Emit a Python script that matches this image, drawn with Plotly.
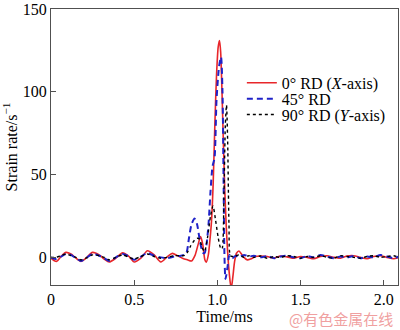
import plotly.graph_objects as go

# ---- data ----
red_x = [0.00, 0.02, 0.035, 0.06, 0.09, 0.12, 0.15, 0.18, 0.21, 0.25, 0.29, 0.32, 0.35, 0.39,
         0.43, 0.47, 0.50, 0.54, 0.58, 0.62, 0.66, 0.70, 0.73, 0.76, 0.79, 0.82, 0.845, 0.865,
         0.885, 0.899, 0.912, 0.925, 0.933, 0.945, 0.955, 0.965, 0.975, 0.985, 0.995, 1.005,
         1.013, 1.020, 1.028, 1.036, 1.045, 1.053, 1.062, 1.072, 1.083, 1.093, 1.103, 1.115,
         1.13, 1.145, 1.16, 1.18, 1.20, 1.23, 1.26, 1.30, 1.34, 1.38, 1.42, 1.46, 1.50, 1.54,
         1.58, 1.62, 1.66, 1.70, 1.74, 1.78, 1.82, 1.86, 1.90, 1.94, 1.98, 2.02, 2.06, 2.09]
red_y = [-0.5, -2.0, -2.4, 0.5, 3.0, 2.0, -0.5, -2.4, -0.5, 3.0, 1.5, -1.0, -2.8, -0.5,
         2.7, 0.5, -2.8, -0.5, 4.0, 1.5, -2.8, 0.5, 2.4, 1.0, -0.5, -1.5, -2.2, 1.0,
         8.0, 12.5, 8.0, -1.5, -3.0, 1.0, 10, 22, 45, 80, 110, 127,
         131, 124, 100, 70, 40, 20, 3, -10, -19, -12, -3, 2.5,
         3.8, 2.0, 0.0, -1.5, -1.0, 0.5, 0.8, 0.5, -0.5, 0.8, 0.3, -0.5, 0.5, 0.0,
         -0.8, 0.5, 1.0, 0.0, -0.5, 0.8, 1.0, 0.0, -0.8, 0.5, 1.0, 0.0, -0.8, 0.0]

blue_x = [0.00, 0.03, 0.06, 0.09, 0.12, 0.15, 0.18, 0.21, 0.25, 0.29, 0.32, 0.35, 0.39, 0.43,
          0.47, 0.50, 0.54, 0.58, 0.62, 0.66, 0.70, 0.74, 0.78, 0.80, 0.815, 0.83, 0.845,
          0.863, 0.878, 0.895, 0.912, 0.923, 0.935, 0.947, 0.959, 0.971, 0.983, 0.995, 1.010,
          1.022, 1.031, 1.037, 1.043, 1.049, 1.061, 1.073, 1.09, 1.11, 1.13, 1.16, 1.19, 1.22,
          1.26, 1.30, 1.34, 1.38, 1.42, 1.46, 1.50, 1.54, 1.58, 1.62, 1.66, 1.70, 1.74, 1.78,
          1.82, 1.86, 1.90, 1.94, 1.98, 2.02, 2.06, 2.09]
blue_y = [0.0, -1.0, 0.5, 2.0, 1.5, -0.5, -2.2, -0.5, 2.2, 1.0, -0.5, -2.2, 0.0, 2.0,
          0.5, -1.5, 0.5, 2.5, 1.0, 0.0, -0.5, 0.5, 1.0, 1.5, 3.0, 12, 20,
          23.5, 20, 10, 3.0, 2.5, 8, 20, 40, 55, 60, 95, 115,
          121, 100, 50, 0, -13, -6, 1.5, -0.5, 1.0, 0.0, 1.5, 0.5, 1.0,
          0.0, 0.8, -0.5, 0.5, 1.0, 0.0, -0.5, 0.8, 0.0, 1.5, 0.5, -0.5, 0.5, 0.0,
          0.8, -0.5, 0.5, 0.0, 1.5, 0.5, -0.5, 0.5]

black_x = [0.00, 0.03, 0.06, 0.09, 0.12, 0.15, 0.18, 0.21, 0.25, 0.29, 0.32, 0.35, 0.39, 0.43,
           0.47, 0.50, 0.54, 0.58, 0.62, 0.66, 0.70, 0.74, 0.78, 0.803, 0.82, 0.84, 0.86,
           0.878, 0.893, 0.908, 0.923, 0.941, 0.959, 0.974, 0.990, 1.005, 1.018, 1.028, 1.040,
           1.048, 1.055, 1.062, 1.070, 1.079, 1.10, 1.13, 1.16, 1.19, 1.22, 1.26, 1.30, 1.34,
           1.38, 1.42, 1.46, 1.50, 1.54, 1.58, 1.62, 1.66, 1.70, 1.74, 1.78, 1.82, 1.86, 1.90,
           1.94, 1.98, 2.02, 2.06, 2.09]
black_y = [0.0, 0.0, 1.0, 2.0, 1.0, 0.0, -1.5, -0.5, 1.5, 1.0, 0.0, -1.5, 0.0, 1.5,
           0.0, -1.0, 0.5, 2.0, 0.5, -0.5, 0.0, 1.0, 1.0, 1.2, 3.0, 7.0, 10,
           11.5, 11, 6, 3.5, 12, 25, 31, 22, 12, 6, 5, 40,
           80, 92, 70, 20, 1.0, 0.5, 1.5, 0.0, 1.0, 0.0, 0.8, -0.5, 0.5,
           0.0, 1.0, 0.5, -0.5, 0.5, 0.0, 1.0, 0.0, -0.5, 1.0, 0.5, 0.0, -0.5, 0.5,
           1.0, 0.0, 0.5, 1.0, 0.0]

names = ["0° RD (<i>X</i>-axis)", "45° RD", "90° RD (<i>Y</i>-axis)"]
x_tickvals = [0, 0.5, 1.0, 1.5, 2.0]
x_ticktext = ["0", "0.5", "1.0", "1.5", "2.0"]
y_tickvals = [0, 50, 100, 150]

FONT = "Liberation Serif"

fig = go.Figure()
fig.add_trace(go.Scatter(x=red_x, y=red_y, mode="lines", name=names[0], legend="legend",
                         line=dict(color="#e8262a", width=1.6, shape="spline", smoothing=0.7)))
fig.add_trace(go.Scatter(x=blue_x, y=blue_y, mode="lines", name=names[1], legend="legend2",
                         line=dict(color="#1f22c8", width=2, dash="6px,4px",
                                   shape="spline", smoothing=0.7)))
fig.add_trace(go.Scatter(x=black_x, y=black_y, mode="lines", name=names[2], legend="legend3",
                         line=dict(color="#000000", width=1.4, dash="dot",
                                   shape="spline", smoothing=0.7)))

axis_common = dict(showgrid=False, zeroline=False, showline=True, mirror=True,
                   linecolor="#505050", linewidth=1.2, ticks="inside", ticklen=5,
                   tickcolor="#505050", ticklabeloverflow="allow",
                   tickfont=dict(family=FONT, size=16, color="black"))

fig.update_xaxes(range=[0, 2.086], tickvals=x_tickvals, ticktext=x_ticktext,
                 title=dict(text="Time/ms", font=dict(family=FONT, size=16, color="black"),
                            standoff=2), **axis_common)
fig.update_yaxes(range=[-16.7, 150.05], tickvals=y_tickvals,
                 title=dict(text="Strain rate/s<sup>−1</sup>",
                            font=dict(family=FONT, size=16, color="black"), standoff=6),
                 **axis_common)

fig.add_annotation(text="@有色金属在线", xref="paper", yref="paper", x=0.99, y=-0.122,
                   xanchor="right", yanchor="middle", showarrow=False,
                   font=dict(family="Noto Sans CJK SC", size=15, color="#f0a0a0"))

leg = dict(x=0.55, xanchor="left", yanchor="top", bgcolor="rgba(0,0,0,0)",
           font=dict(family=FONT, size=16, color="black"), itemwidth=30)

fig.update_layout(
    width=400, height=330,
    margin=dict(l=51, r=1, t=5, b=45),
    paper_bgcolor="white", plot_bgcolor="white",
    showlegend=True,
    legend=dict(y=0.794, **leg),
    legend2=dict(y=0.736, **leg),
    legend3=dict(y=0.679, **leg),
)

fig.write_html("out.html")
